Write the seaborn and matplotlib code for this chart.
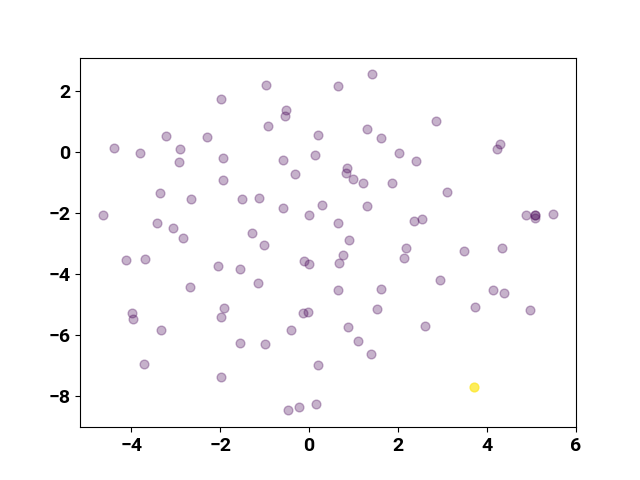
import numpy as np
import pandas as pd
import matplotlib
matplotlib.use("Agg")
import matplotlib.pyplot as plt
import seaborn as sns

# point coordinates
x = [-4.645, -4.382, -4.106, -3.798, -3.692, -3.978, -3.955, -3.715, -3.342, -3.326,
     -3.213, -3.431, -3.063, -2.928, -2.899, -2.838, -2.681, -2.658, -2.292, -1.971,
     -1.926, -1.933, -2.038, -1.984, -1.978, -1.903, -1.544, -1.544, -1.506, -1.288,
     -1.117, -1.011, -1.146, -0.973, -0.928, -0.989, -0.591, -0.578, -0.510, -0.533,
     -0.398, -0.479, -0.231, -0.321, -0.135, -0.029, -0.119, -0.007, -0.007, 0.142,
     0.196, 0.157, 0.209, 0.292, 0.645, 0.652, 0.681, 0.764, 0.645, 0.854,
     0.838, 0.883, 0.906, 0.996, 1.213, 1.094, 1.310, 1.310, 1.422, 1.393,
     1.528, 1.625, 1.625, 1.865, 2.022, 2.128, 2.173, 2.360, 2.533, 2.404,
     2.600, 2.847, 2.944, 3.108, 3.476, 3.730, 3.708, 4.135, 4.375, 4.225,
     4.292, 4.337, 4.883, 5.079, 5.079, 5.079, 5.483, 4.960]
y = [-2.066, 0.144, -3.551, -0.033, -3.508, -5.298, -5.485, -6.970, -1.344, -5.856,
     0.515, -2.338, -2.479, -0.315, 0.089, -2.820, -4.436, -1.528, 0.505, 1.728,
     -0.197, -0.928, -3.748, -7.397, -5.420, -5.125, -3.846, -6.282, -1.528, -2.666,
     -1.495, -3.049, -4.282, 2.197, 0.843, -6.315, -0.272, -1.846, 1.390, 1.170,
     -5.846, -8.479, -8.370, -0.731, -5.289, -5.256, -3.561, -3.682, -2.052, -0.098,
     0.548, -8.272, -7.003, -1.725, 2.164, -2.315, -3.639, -3.364, -4.544, -0.534,
     -0.689, -5.738, -2.885, -0.872, -1.020, -6.197, 0.754, -1.757, 2.548, -6.633,
     -5.157, 0.472, -4.479, -1.003, -0.033, -3.485, -3.134, -2.262, -2.207, -0.282,
     -5.725, 1.016, -4.197, -1.311, -3.246, -5.092, -7.705, -4.544, -4.623, 0.098,
     0.275, -3.148, -2.052, -2.059, -2.075, -2.174, -2.043, -5.200]
# 1 = outlier (yellow), 0 = normal
labels = [0] * len(x)
labels[86] = 1

df = pd.DataFrame({"x": x, "y": y, "label": labels})

fig, ax = plt.subplots(figsize=(6.4, 4.8), dpi=100)

inl = df[df["label"] == 0]
out = df[df["label"] == 1]
sns.scatterplot(data=inl, x="x", y="y", color="#440154", alpha=0.3, s=40,
                edgecolor="face", linewidth=1.0, ax=ax)
sns.scatterplot(data=out, x="x", y="y", color="#fde725", alpha=0.75, s=40,
                edgecolor="face", linewidth=1.0, ax=ax)

ax.set_xlabel("")
ax.set_ylabel("")
ax.set_xticks([-4, -2, 0, 2, 4, 6])
ax.set_yticks([-8, -6, -4, -2, 0, 2])
for lab in ax.get_xticklabels() + ax.get_yticklabels():
    lab.set_fontfamily("Roboto")
    lab.set_fontweight("bold")
    lab.set_fontsize(14)

fig.savefig("out.png", dpi=100)
